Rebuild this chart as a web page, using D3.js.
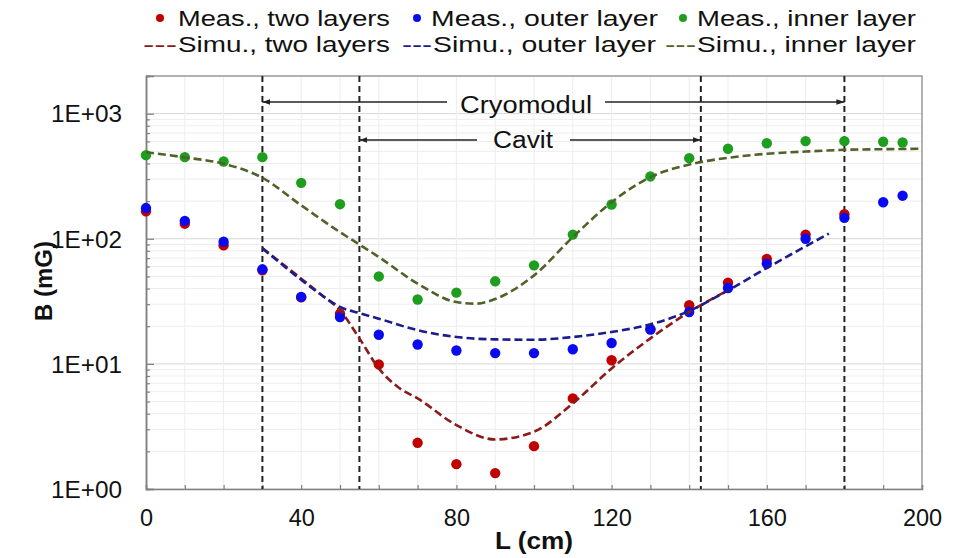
<!DOCTYPE html>
<html><head><meta charset="utf-8">
<script src="https://cdn.jsdelivr.net/npm/d3@7"></script>
<style>body{margin:0;background:#fff} svg{display:block}</style>
</head><body><svg id="c" width="960" height="558"></svg>
<script>
// ---------- data ----------
const measX      = [0,10,20,30,40,50,60,70,80,90,100,110,120,130,140,150,160,170,180,190,195];
const measTwo    = [166,132,88.5,56,34,25.2,9.9,2.34,1.58,1.34,2.2,5.3,10.7,19,29.4,44.6,68.9,108,157,null,null];
const measOuter  = [176,139,94.8,57,34.3,23.7,17.1,14.3,12.8,12.2,12.2,13.1,14.7,18.8,26,40.4,63.3,100,147,196,221];
const measInner  = [466,449,415,449,280,189,50,32.7,37.1,45.7,61.3,108,188,315,441,524,580,603,603,596,588];

const simInnerX  = [0,10,20,30,40,50,55,60,70,80,85,90,100,110,120,130,140,150,160,170,180,190,200];
const simInner   = [492,447,398,307,185,113,90,71.5,43.8,31.2,30.3,33,51,103,196,311,392,444,478,498,514,520,524];
const simOuterX  = [30,40,45,50,55,60,70,80,90,100,110,120,130,140,150,160,170,176];
const simOuter   = [84,47,36,28.5,25.5,23,18.6,16.4,15.7,15.6,16.4,18,20.7,26.5,38.7,58.4,87,110];
const simTwoX    = [30,40,45,50,55,60,65,70,80,90,100,110,120,130,140,150];
const simTwo     = [84,48,36,26.8,16,9.2,6.5,5.3,3.24,2.49,2.87,4.83,9.2,16,26,38.7];

const xTicks     = [0,40,80,120,160,200];
const yTicks     = [1,10,100,1000];
const yTickLabels= ["1E+00","1E+01","1E+02","1E+03"];
const regionLines= [30,55,143,180];
const measLabels = ["Meas., two layers","Meas., outer layer","Meas., inner layer"];
const simLabels  = ["Simu., two layers","Simu., outer layer","Simu., inner layer"];
const ptColors   = ["#c00000","#0a0af0","#1e9e1e"];
const lnColors   = ["#8b1a1a","#1c1c8c","#4f6228"];

// ---------- setup ----------
const svg = d3.select("#c");
const FONT = "'Liberation Sans', Arial, sans-serif";
const x = d3.scaleLinear().domain([0,200]).range([146,922]);
const y = d3.scaleLog().domain([1,2000]).range([489,76]);

// grid
const minorY = [];
for (let e=0;e<=3;e++) for (let m=1;m<=9;m++){ const v=m*Math.pow(10,e); if (v<=2000) minorY.push(v); }
const g = svg.append("g");
g.selectAll("line.hy").data(minorY).enter().append("line")
  .attr("x1",x(0)).attr("x2",x(200)).attr("y1",d=>y(d)).attr("y2",d=>y(d))
  .attr("stroke",d=>yTicks.includes(d)?"#d6d6d6":"#ededed").attr("stroke-width",1);
g.selectAll("line.vx").data(d3.range(10,200,10)).enter().append("line")
  .attr("x1",d=>x(d)).attr("x2",d=>x(d)).attr("y1",y(2000)).attr("y2",y(1))
  .attr("stroke","#ededed").attr("stroke-width",1);

// border top/right
svg.append("path").attr("d",`M${x(0)},${y(2000)}H${x(200)}V${y(1)}`)
  .attr("fill","none").attr("stroke","#9a9a9a").attr("stroke-width",1.5);

// axes
const ax = svg.append("g").attr("transform",`translate(0,${y(1)})`)
  .call(d3.axisBottom(x).tickValues(d3.range(0,201,10)).tickSize(-4).tickPadding(20)
    .tickFormat(d=>xTicks.includes(d)?String(d):""));
const ay = svg.append("g").attr("transform",`translate(${x(0)},0)`)
  .call(d3.axisLeft(y).tickValues(yTicks).tickSize(-8).tickPadding(24)
    .tickFormat((d,i)=>yTickLabels[i]));
const ayMinor = svg.append("g").attr("transform",`translate(${x(0)},0)`)
  .call(d3.axisLeft(y).tickValues(minorY.filter(v=>!yTicks.includes(v))).tickSize(-4).tickFormat(""));
[ax,ay,ayMinor].forEach(a=>{
  a.select(".domain").attr("stroke","#7f7f7f").attr("stroke-width",1.5);
  a.selectAll(".tick line").attr("stroke","#7f7f7f").attr("stroke-width",1.2);
  a.selectAll("text").attr("font-family",FONT).attr("font-size",23.5).attr("fill","#111");
});
ay.selectAll(".tick text").attr("dy","0.35em").attr("textLength",71).attr("lengthAdjust","spacingAndGlyphs");

// region dashed lines
svg.selectAll("line.reg").data(regionLines).enter().append("line")
  .attr("x1",d=>x(d)).attr("x2",d=>x(d)).attr("y1",y(2000)).attr("y2",y(1))
  .attr("stroke","#222").attr("stroke-width",2).attr("stroke-dasharray","6,4");

// annotations
const defs = svg.append("defs");
defs.append("marker").attr("id","arr").attr("viewBox","0 0 10 10").attr("refX",10).attr("refY",5)
  .attr("markerWidth",8).attr("markerHeight",8).attr("markerUnits","userSpaceOnUse").attr("orient","auto")
  .append("path").attr("d","M0,1.5L10,5L0,8.5Z").attr("fill","#222");
const annos = [
  {label:"Cryomodul", from:regionLines[0], to:regionLines[3], yy:102, gap:[447,605], tx:460, w:132, by:113},
  {label:"Cavit",     from:regionLines[1], to:regionLines[2], yy:140, gap:[477,570], tx:493, w:60,  by:148}
];
annos.forEach(a=>{
  svg.append("line").attr("x1",a.gap[0]).attr("x2",x(a.from)).attr("y1",a.yy).attr("y2",a.yy)
    .attr("stroke","#222").attr("stroke-width",1.6).attr("marker-end","url(#arr)");
  svg.append("line").attr("x1",a.gap[1]).attr("x2",x(a.to)).attr("y1",a.yy).attr("y2",a.yy)
    .attr("stroke","#222").attr("stroke-width",1.6).attr("marker-end","url(#arr)");
  svg.append("text").attr("x",a.tx).attr("y",a.by)
    .attr("font-family",FONT).attr("font-size",23).attr("fill","#111")
    .attr("textLength",a.w).attr("lengthAdjust","spacingAndGlyphs").text(a.label);
});

// points
const measSeries = [measTwo, measOuter, measInner];
measSeries.forEach((s,i)=>{
  const pts = measX.map((L,j)=>({L, v:s[j]})).filter(d=>d.v!=null);
  svg.append("g").selectAll("circle").data(pts).enter().append("circle")
    .attr("cx",d=>x(d.L)).attr("cy",d=>y(d.v)).attr("r",5.2).attr("fill",ptColors[i]);
});

// sim lines
const line = d3.line().x(d=>x(d[0])).y(d=>y(d[1])).curve(d3.curveMonotoneX);
const simSeries = [[simTwoX,simTwo],[simOuterX,simOuter],[simInnerX,simInner]];
simSeries.forEach((s,i)=>{
  svg.append("path").datum(s[0].map((L,j)=>[L,s[1][j]])).attr("d",line)
    .attr("fill","none").attr("stroke",lnColors[i]).attr("stroke-width",2.6)
    .attr("stroke-dasharray","8,4");
});

// axis titles
svg.append("text").attr("x",534).attr("y",549).attr("text-anchor","middle")
  .attr("font-family",FONT).attr("font-size",24).attr("font-weight","bold").attr("fill","#111")
  .attr("textLength",78).attr("lengthAdjust","spacingAndGlyphs").text("L (cm)");
svg.append("text").attr("transform","translate(52,281) rotate(-90)").attr("text-anchor","middle")
  .attr("font-family",FONT).attr("font-size",24).attr("font-weight","bold").attr("fill","#111").text("B (mG)");

// legend
const leg1 = [{dot:160,tx:178,w:212},{dot:417,tx:431,w:227},{dot:683,tx:697,w:219}];
const leg2 = [{dx:143,tx:178,w:212},{dx:402,tx:433,w:223},{dx:665,tx:697,w:219}];
leg1.forEach((p,i)=>{
  svg.append("circle").attr("cx",p.dot).attr("cy",18).attr("r",4).attr("fill",ptColors[i]);
  svg.append("text").attr("x",p.tx).attr("y",26).attr("font-family",FONT).attr("font-size",22.5)
    .attr("fill","#111").attr("textLength",p.w).attr("lengthAdjust","spacingAndGlyphs").text(measLabels[i]);
});
leg2.forEach((p,i)=>{
  svg.append("text").attr("x",p.dx).attr("y",52).attr("font-family",FONT).attr("font-size",22.5)
    .attr("fill",lnColors[i]).attr("textLength",p.tx-p.dx-1).attr("lengthAdjust","spacingAndGlyphs").text("---");
  svg.append("text").attr("x",p.tx).attr("y",52).attr("font-family",FONT).attr("font-size",22.5)
    .attr("fill","#111").attr("textLength",p.w).attr("lengthAdjust","spacingAndGlyphs").text(simLabels[i]);
});
</script></body></html>
